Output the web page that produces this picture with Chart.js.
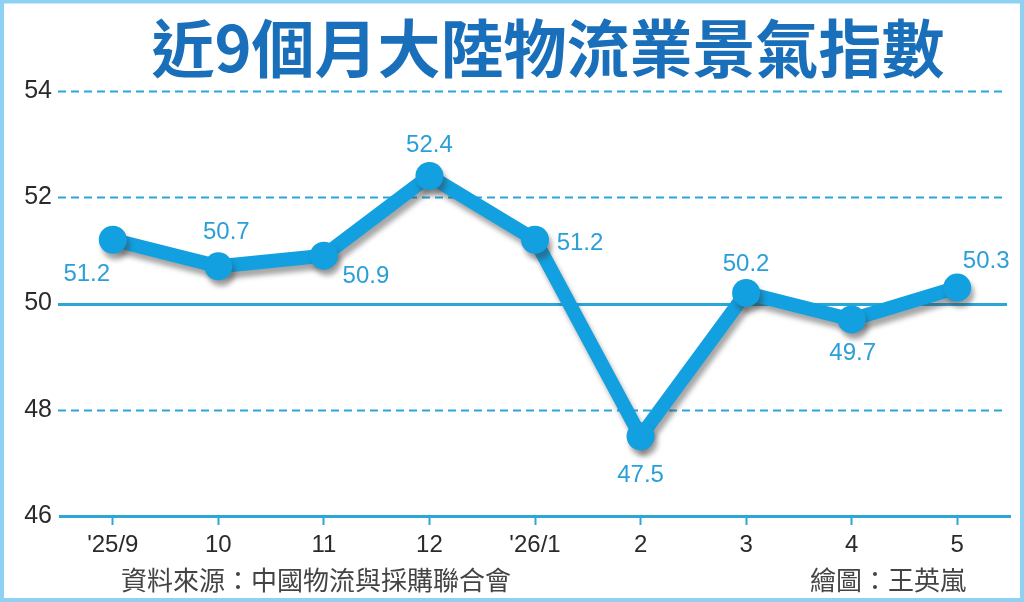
<!DOCTYPE html>
<html>
<head>
<meta charset="utf-8">
<script src="https://cdn.jsdelivr.net/npm/chart.js@4/dist/chart.umd.min.js"></script>
<style>
  html, body { margin: 0; padding: 0; background: #fff; }
  canvas { display: block; }
</style>
</head>
<body>
<canvas id="myChart" width="1024" height="602"></canvas>
<script>
'use strict'
// data
let months = ["'25/9", '10', '11', '12', "'26/1", '2', '3', '4', '5'];
let indexValues = [51.2, 50.7, 50.9, 52.4, 51.2, 47.5, 50.2, 49.7, 50.3];
let yTicks = [46, 48, 50, 52, 54];
let titleText = '近9個月大陸物流業景氣指數';
let sourceText = '資料來源：中國物流與採購聯合會';
let creditText = '繪圖：王英嵐';

let blue = '#12a0e0';
let gridBlue = '#2ca6d8';
let labelBlue = '#2a9fd8';

// where each value label sits relative to its point
let labelShift = [[-26, 35], [8, -34], [42, 21], [0, -31], [45, 4], [0, 39], [0, -29], [1, 34], [29, -26]];

let gridPlugin = {
    id: 'gridLines',
    beforeDatasetsDraw(chart) {
        let ctx = chart.ctx;
        let y = chart.scales.y;
        let area = chart.chartArea;
        ctx.save();
        ctx.strokeStyle = gridBlue;
        for (let i = 0; i < yTicks.length; i++) {
            let v = yTicks[i];
            if (v === 46) continue;
            let py = Math.round(y.getPixelForValue(v)) + 0.5;
            if (v === 50) {
                ctx.lineWidth = 3;
                ctx.setLineDash([]);
            } else {
                ctx.lineWidth = 2;
                ctx.setLineDash([8, 5]);
            }
            ctx.beginPath();
            ctx.moveTo(area.left - 2, py);
            ctx.lineTo(area.right - 3, py);
            ctx.stroke();
        }
        ctx.restore();
    }
};

let shadowPlugin = {
    id: 'lineShadow',
    beforeDatasetDraw(chart) {
        let ctx = chart.ctx;
        ctx.save();
        ctx.shadowColor = 'rgba(60,60,60,0.45)';
        ctx.shadowBlur = 5;
        ctx.shadowOffsetX = 3;
        ctx.shadowOffsetY = 6;
    },
    afterDatasetDraw(chart) {
        chart.ctx.restore();
    }
};

let labelPlugin = {
    id: 'valueLabels',
    afterDatasetsDraw(chart) {
        let ctx = chart.ctx;
        let meta = chart.getDatasetMeta(0);
        ctx.save();
        ctx.font = '24px "Liberation Sans", Arial, sans-serif';
        ctx.fillStyle = labelBlue;
        ctx.textAlign = 'center';
        ctx.textBaseline = 'middle';
        for (let i = 0; i < meta.data.length; i++) {
            let pt = meta.data[i];
            ctx.fillText(indexValues[i].toFixed(1), pt.x + labelShift[i][0], pt.y + labelShift[i][1]);
        }
        ctx.restore();
    }
};

let framePlugin = {
    id: 'frame',
    beforeDraw(chart) {
        let ctx = chart.ctx;
        ctx.save();
        ctx.fillStyle = '#fff';
        ctx.fillRect(0, 0, chart.width, chart.height);
        ctx.restore();
    },
    afterDraw(chart) {
        let ctx = chart.ctx;
        ctx.save();
        ctx.strokeStyle = '#8fd1f2';
        ctx.lineWidth = 4;
        ctx.strokeRect(2, 1.5, chart.width - 4, chart.height - 3.5);

        ctx.fillStyle = '#1a6fba';
        ctx.font = 'bold 63px "Noto Sans CJK TC", sans-serif';
        ctx.textAlign = 'center';
        ctx.textBaseline = 'middle';
        ctx.fillText(titleText, 548, 48);

        ctx.fillStyle = '#444';
        ctx.font = '26px "Noto Sans CJK TC", sans-serif';
        ctx.textAlign = 'left';
        ctx.fillText(sourceText, 121, 580);
        ctx.textAlign = 'right';
        ctx.fillText(creditText, 966, 580);
        ctx.restore();
    }
};

let ctx = document.getElementById('myChart').getContext('2d');
let myChart = new Chart(ctx, {
    type: 'line',
    data: {
        labels: months,
        datasets: [{
            data: indexValues,
            borderColor: blue,
            backgroundColor: blue,
            borderWidth: 14,
            pointRadius: 14,
            pointHoverRadius: 14,
            pointBorderWidth: 0,
            pointBackgroundColor: blue,
            tension: 0,
            fill: false
        }]
    },
    options: {
        responsive: false,
        animation: false,
        devicePixelRatio: 1,
        layout: { padding: { top: 91, right: 13, left: 0, bottom: 0 } },
        plugins: {
            legend: { display: false },
            tooltip: { enabled: false }
        },
        scales: {
            x: {
                offset: true,
                afterFit(scale) { scale.height = 86; },
                grid: {
                    display: true,
                    drawOnChartArea: false,
                    drawTicks: true,
                    tickLength: 9,
                    tickWidth: 2,
                    tickColor: gridBlue,
                    offset: false
                },
                border: { display: true, color: gridBlue, width: 3 },
                ticks: {
                    color: '#2a2a2a',
                    padding: 6,
                    font: { family: '"Liberation Sans", Arial, sans-serif', size: 24 }
                }
            },
            y: {
                min: 46,
                max: 54,
                afterFit(scale) { scale.width = 60; },
                afterBuildTicks(scale) { scale.ticks = yTicks.map(v => ({ value: v })); },
                grid: { display: false, drawTicks: false },
                border: { display: false },
                ticks: {
                    color: '#2a2a2a',
                    padding: 8,
                    font: { family: '"Liberation Sans", Arial, sans-serif', size: 25 }
                }
            }
        }
    },
    plugins: [framePlugin, gridPlugin, shadowPlugin, labelPlugin]
});
</script>
</body>
</html>
